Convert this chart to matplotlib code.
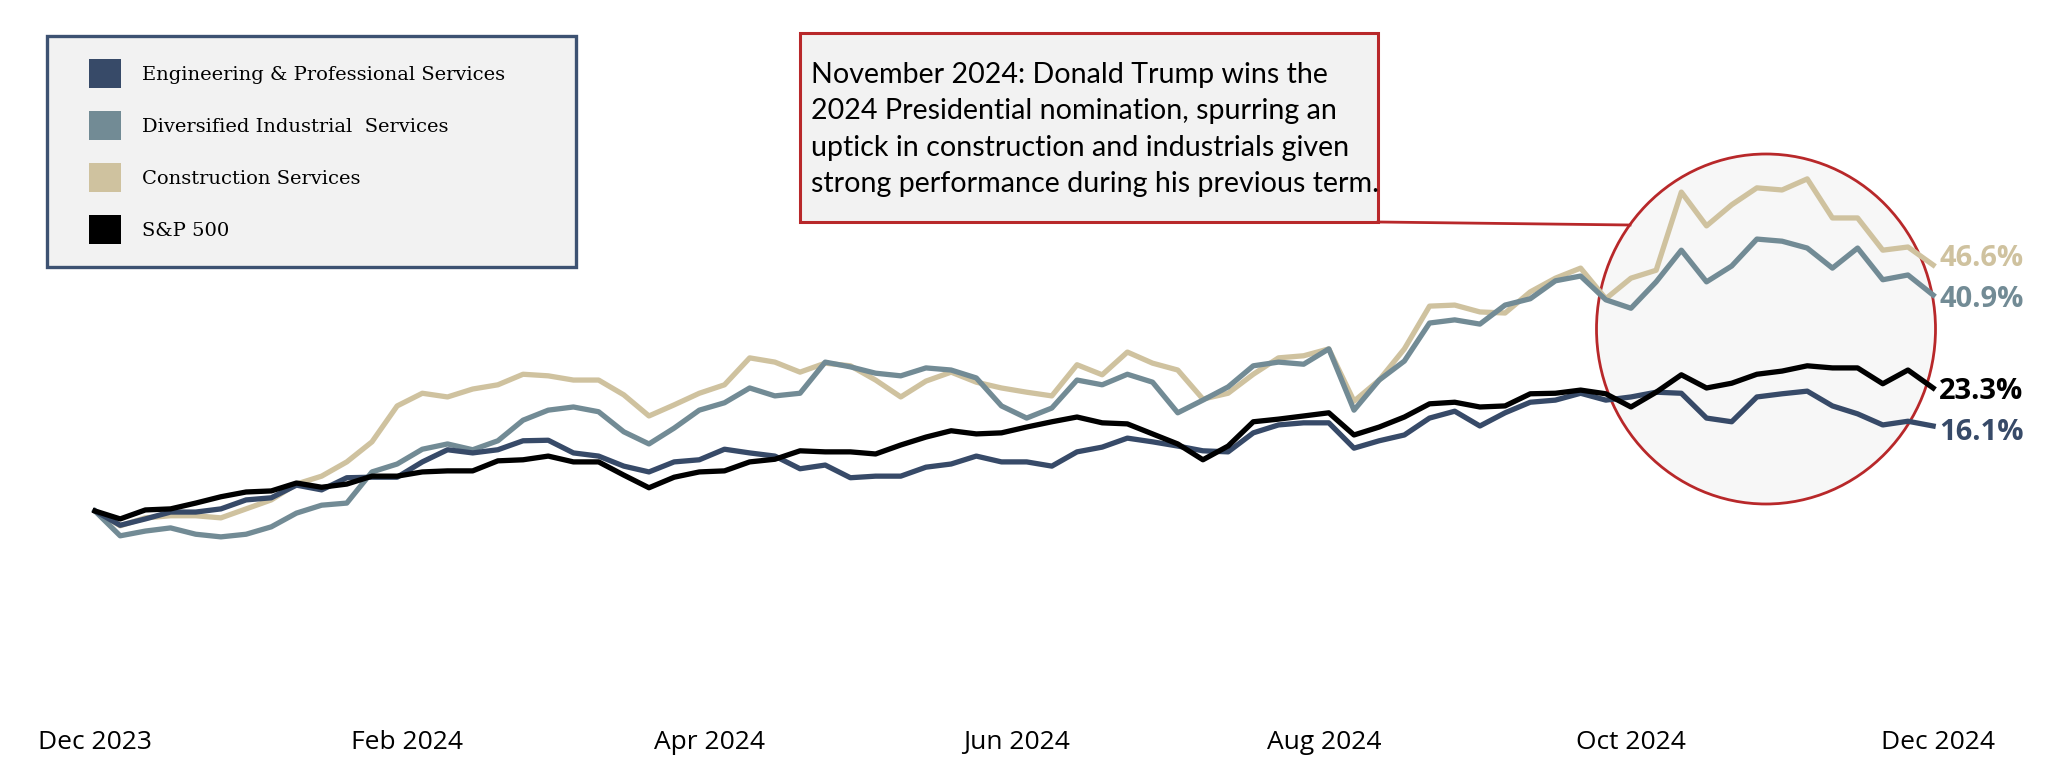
import matplotlib
matplotlib.use("Agg")
import matplotlib.pyplot as plt
import matplotlib.dates as mdates
from matplotlib.patches import Rectangle, Ellipse, Patch
from matplotlib.lines import Line2D
import pandas as pd

# ── Data: cumulative return (%), sampled every 5 days from 1 Dec 2023 ─────────
dates = pd.date_range("2023-12-01", periods=74, freq="5D")

engineering = [0.0, -2.7, -1.5, -0.2, -0.2, 0.4, 2.1, 2.5, 4.9, 4.0, 6.3, 6.4, 6.4, 9.3, 11.6, 11.0, 11.6, 13.3,
               13.4, 11.0, 10.4, 8.5, 7.4, 9.3, 9.7, 11.7, 11.0, 10.4, 8.0, 8.7, 6.3, 6.6, 6.6, 8.3, 8.9, 10.4,
               9.3, 9.3, 8.5, 11.2, 12.1, 13.8, 13.1, 12.3, 11.4, 11.2, 14.8, 16.3, 16.7, 16.7, 11.9, 13.3, 14.4,
               17.6, 18.9, 16.1, 18.6, 20.6, 21.0, 22.3, 21.0, 21.6, 22.5, 22.3, 17.6, 16.9, 21.6, 22.2, 22.7,
               19.9, 18.4, 16.3, 17.0, 16.1]
diversified = [0.0, -4.7, -3.8, -3.2, -4.4, -4.9, -4.4, -3.0, -0.4, 1.1, 1.5, 7.4, 8.9, 11.7, 12.7, 11.6, 13.3, 17.2,
               19.1, 19.7, 18.8, 15.0, 12.7, 15.7, 19.1, 20.5, 23.3, 21.8, 22.3, 28.2, 27.3, 26.1, 25.6, 27.1, 26.7,
               25.2, 19.9, 17.6, 19.5, 24.8, 23.9, 25.9, 24.4, 18.6, 21.0, 23.5, 27.5, 28.2, 27.8, 30.7, 19.1, 24.8,
               28.4, 35.6, 36.2, 35.4, 39.0, 40.2, 43.6, 44.5, 40.0, 38.4, 43.4, 49.4, 43.4, 46.4, 51.5, 51.1, 49.8,
               46.0, 49.8, 43.8, 44.7, 40.9]
construction = [0.0, -2.8, -1.3, -0.9, -0.9, -1.3, 0.4, 2.1, 5.1, 6.6, 9.3, 13.1, 19.9, 22.3, 21.6, 23.1, 23.9, 25.9,
                25.6, 24.8, 24.8, 22.0, 18.0, 20.1, 22.3, 23.9, 29.0, 28.2, 26.3, 28.0, 27.5, 24.8, 21.6, 24.6, 26.3,
                24.4, 23.3, 22.5, 21.8, 27.7, 25.8, 30.1, 28.0, 26.7, 21.2, 22.3, 25.9, 29.0, 29.4, 30.7, 20.8, 24.8,
                30.7, 38.8, 39.0, 37.7, 37.5, 41.5, 44.1, 46.0, 40.2, 44.1, 45.6, 60.4, 54.0, 58.0, 61.2, 60.8, 62.9,
                55.5, 55.5, 49.4, 50.0, 46.6]
sp500 = [0.0, -1.5, 0.2, 0.4, 1.5, 2.7, 3.6, 3.8, 5.3, 4.5, 5.1, 6.6, 6.6, 7.4, 7.6, 7.6, 9.5, 9.7,
         10.4, 9.3, 9.3, 6.8, 4.4, 6.4, 7.4, 7.6, 9.3, 9.8, 11.4, 11.2, 11.2, 10.8, 12.5, 14.0, 15.2, 14.6,
         14.8, 15.9, 16.9, 17.8, 16.7, 16.5, 14.6, 12.7, 9.7, 12.3, 16.9, 17.4, 18.0, 18.6, 14.4, 15.9, 17.8,
         20.3, 20.6, 19.7, 19.9, 22.2, 22.3, 22.9, 22.2, 19.7, 22.5, 25.8, 23.3, 24.2, 25.9, 26.5, 27.5, 27.1,
         27.1, 24.1, 26.7, 23.3]

series_names = ["Engineering & Professional Services", "Diversified Industrial  Services",
                "Construction Services", "S&P 500"]
colors = ["#374a68", "#728b95", "#cfc29f", "#000000"]

note = ("November 2024: Donald Trump wins the\n"
        "2024 Presidential nomination, spurring an\n"
        "uptick in construction and industrials given\n"
        "strong performance during his previous term.")

W, H = 2062, 770
fig = plt.figure(figsize=(W / 100, H / 100), dpi=100)
ax = fig.add_axes([0, 55 / H, 1, 715 / H])

# pixel mapping: 1 Dec 2023 at x=95, 5.036 px/day; 0% at y=511, 5.28 px per %
d0 = mdates.date2num(pd.Timestamp("2023-12-01"))
ax.set_xlim(d0 - 95 / 5.036, d0 + (W - 95) / 5.036)
ax.set_ylim(-(715 - 511) / 5.28, 511 / 5.28)

# ── Highlight circle behind the lines ────────────────────────────────────────
ax.add_patch(Ellipse((1766 / W, 1 - 329 / H), 339 / W, 350 / H, transform=fig.transFigure,
                     facecolor="#f7f7f7", edgecolor="#b8282a", lw=2.0, zorder=0.5))

series = [construction, diversified, engineering, sp500]
order = [2, 1, 0, 3]
for vals, i in zip(series, order):
    ax.plot(dates, vals, color=colors[i], lw=3.8, solid_joinstyle="round", zorder=2 + order.index(i))

# end labels
offsets = {0: -4.5, 1: -3.0, 2: 5.0, 3: -2.6}
for vals, i in zip(series, order):
    ax.annotate(f"{vals[-1]:.1f}%", xy=(dates[-1], vals[-1]), xytext=(4.5, offsets[i]),
                textcoords="offset points", ha="left", va="center", fontsize=21,
                fontweight="bold", color=colors[i], family="Open Sans")

ax.xaxis.set_major_locator(mdates.MonthLocator(bymonth=[12, 2, 4, 6, 8, 10]))
ax.xaxis.set_major_formatter(mdates.DateFormatter("%b %Y"))
ax.tick_params(axis="x", length=0, pad=11, labelsize=19)
for lbl in ax.get_xticklabels():
    lbl.set_family("Open Sans")
ax.set_yticks([])
for s in ax.spines.values():
    s.set_visible(False)

# ── Legend box ────────────────────────────────────────────────────────────────
fig.add_artist(Rectangle((47 / W, 1 - 267 / H), 529 / W, 231 / H, transform=fig.transFigure,
                         facecolor="#f2f2f2", edgecolor="#3d5272", lw=2.4, zorder=1))
handles = [Patch(facecolor=c, edgecolor="none") for c in colors]
fig.legend(handles, series_names, loc="upper left", bbox_to_anchor=(89 / W, 1 - 59 / H),
           bbox_transform=fig.transFigure, frameon=False, borderpad=0, borderaxespad=0,
           handlelength=1.646, handleheight=1.9, handletextpad=1.08, labelspacing=1.2,
           prop={"family": "DejaVu Serif", "size": 14})

# ── Annotation box + connector ───────────────────────────────────────────────
fig.add_artist(Rectangle((800 / W, 1 - 222 / H), 578 / W, 189 / H, transform=fig.transFigure,
                         facecolor="#f2f2f2", edgecolor="#b8282a", lw=2.2, zorder=1))
fig.add_artist(Line2D([1378 / W, 1630 / W], [1 - 222 / H, 1 - 225 / H], transform=fig.transFigure,
                      color="#b8282a", lw=2.0, zorder=1))
fig.text(811 / W, 1 - 62 / H, note, ha="left", va="top", fontsize=20.6, family="Lato",
         linespacing=1.49, color="#000000", zorder=2)

fig.savefig("out.png", dpi=100)
